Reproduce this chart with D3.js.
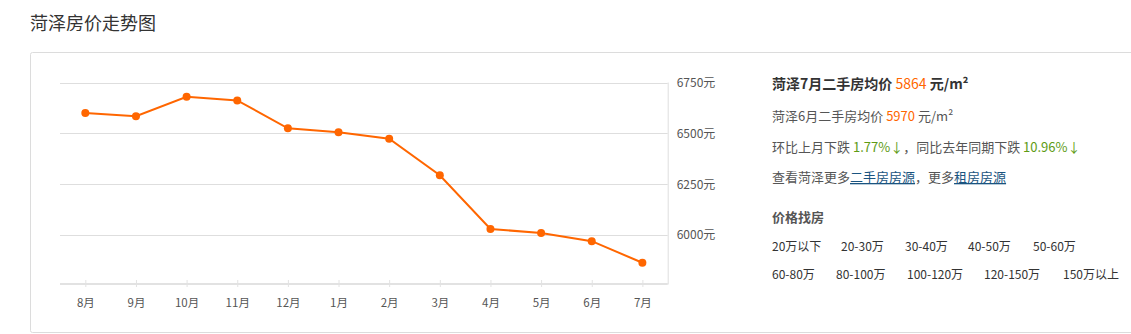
<!DOCTYPE html>
<html>
<head>
<meta charset="utf-8">
<script src="https://cdn.jsdelivr.net/npm/d3@7"></script>
<style>
body { margin: 0; background: #fff; font-family: "Noto Sans CJK SC", "DejaVu Sans", sans-serif; }
svg text { font-family: "Noto Sans CJK SC", "DejaVu Sans", sans-serif; }
</style>
</head>
<body>
<svg id="chart" width="1131" height="334"></svg>
<script>
// DATA
var months = ["8月", "9月", "10月", "11月", "12月", "1月", "2月", "3月", "4月", "5月", "6月", "7月"];
var prices = [6600, 6584, 6680, 6662, 6525, 6505, 6474, 6294, 6030, 6010, 5970, 5864];
var priceTicks = [6000, 6250, 6500, 6750];
var priceRow1 = ["20万以下", "20-30万", "30-40万", "40-50万", "50-60万"];
var priceRow2 = ["60-80万", "80-100万", "100-120万", "120-150万", "150万以上"];

// DRAWING AREA
var svg = d3.select("#chart");
var plotLeft = 60, plotRight = 667.7, plotTop = 82.5, plotBottom = 284.5;

// TITLE + BOX
svg.append("text").text("菏泽房价走势图")
	.attr("x", 30).attr("y", 30)
	.style("font-size", "18px").style("fill", "#333");

svg.append("rect")
	.attr("x", 30.5).attr("y", 52.5)
	.attr("width", 1110).attr("height", 280)
	.attr("rx", 2)
	.style("fill", "none").style("stroke", "#dcdcdc");

// SCALES
var xScale = d3.scalePoint()
	.domain(months)
	.range([plotLeft, plotRight])
	.padding(0.5);

var yScale = d3.scaleLinear()
	.domain([5757, 6750])
	.range([plotBottom, plotTop]);

// GRID (horizontal lines)
svg.append("g").selectAll("line")
	.data(priceTicks)
	.enter()
	.append("line")
	.attr("x1", plotLeft).attr("x2", plotRight)
	.attr("y1", d => Math.round(yScale(d)) + 0.5)
	.attr("y2", d => Math.round(yScale(d)) + 0.5)
	.style("stroke", "#dedede");

// RIGHT AXIS
var yAxis = d3.axisRight(yScale)
	.tickValues(priceTicks)
	.tickSize(0)
	.tickPadding(9)
	.tickFormat(d => d + "元");

var yAxisG = svg.append("g")
	.attr("transform", "translate(" + plotRight + ",0)")
	.call(yAxis);
yAxisG.select(".domain").style("stroke", "#dedede")
	.attr("d", "M0.5," + plotTop + "V" + plotBottom);
yAxisG.selectAll("text").style("font-size", "12px").style("fill", "#555");

// BOTTOM AXIS
var xAxis = d3.axisBottom(xScale)
	.tickSize(6)
	.tickPadding(9);

var xAxisG = svg.append("g")
	.attr("transform", "translate(0," + (plotBottom - 0.5) + ")")
	.call(xAxis);
xAxisG.select(".domain").style("stroke", "#d8d8d8").style("stroke-width", 1.5)
	.attr("d", "M" + plotLeft + ",0H" + plotRight);
xAxisG.selectAll(".tick line").attr("y1", -4).attr("y2", 3).style("stroke", "#e2e2e2");
xAxisG.selectAll("text").style("font-size", "11.5px").style("fill", "#555");

// LINE
var line = d3.line()
	.x((d, i) => xScale(months[i]))
	.y(d => yScale(d));

svg.append("path")
	.datum(prices)
	.attr("d", line)
	.style("fill", "none")
	.style("stroke", "#f60")
	.style("stroke-width", 2);

svg.append("g").selectAll("circle")
	.data(prices)
	.enter()
	.append("circle")
	.attr("cx", (d, i) => xScale(months[i]))
	.attr("cy", d => yScale(d))
	.attr("r", 4)
	.style("fill", "#f60");

// INFO PANEL
var info = svg.append("g").attr("transform", "translate(772,0)");

var l1 = info.append("text").attr("x", 0).attr("y", 89)
	.style("font-size", "14px").style("fill", "#333");
l1.append("tspan").text("菏泽7月二手房均价 ").style("font-weight", "bold");
l1.append("tspan").text(prices[11]).style("fill", "#f60");
l1.append("tspan").text(" 元/m²").style("font-weight", "bold");

var l2 = info.append("text").attr("x", 0).attr("y", 121)
	.style("font-size", "13px").style("fill", "#555");
l2.append("tspan").text("菏泽6月二手房均价 ");
l2.append("tspan").text(prices[10]).style("fill", "#f60");
l2.append("tspan").text(" 元/m²");

var l3 = info.append("text").attr("x", 0).attr("y", 152)
	.style("font-size", "13px").style("fill", "#555");
l3.append("tspan").text("环比上月下跌 ");
l3.append("tspan").text("1.77%↓").style("fill", "#5e9b14");
l3.append("tspan").text("，同比去年同期下跌 ");
l3.append("tspan").text("10.96%↓").style("fill", "#5e9b14");

var l4 = info.append("text").attr("x", 0).attr("y", 182)
	.style("font-size", "13px").style("fill", "#555");
l4.append("tspan").text("查看菏泽更多");
l4.append("tspan").text("二手房房源").style("fill", "#1a5480").style("text-decoration", "underline");
l4.append("tspan").text("，更多");
l4.append("tspan").text("租房房源").style("fill", "#1a5480").style("text-decoration", "underline");

info.append("text").text("价格找房")
	.attr("x", 0).attr("y", 222)
	.style("font-size", "13px").style("font-weight", "bold").style("fill", "#555");

var row1X = [0, 69, 133, 196, 261];
var row2X = [0, 64, 135, 212, 291];

info.append("g").selectAll("text")
	.data(priceRow1)
	.enter()
	.append("text")
	.text(d => d)
	.attr("x", (d, i) => row1X[i])
	.attr("y", 251)
	.style("font-size", "12px").style("fill", "#333");

info.append("g").selectAll("text")
	.data(priceRow2)
	.enter()
	.append("text")
	.text(d => d)
	.attr("x", (d, i) => row2X[i])
	.attr("y", 279)
	.style("font-size", "12px").style("fill", "#333");
</script>
</body>
</html>
